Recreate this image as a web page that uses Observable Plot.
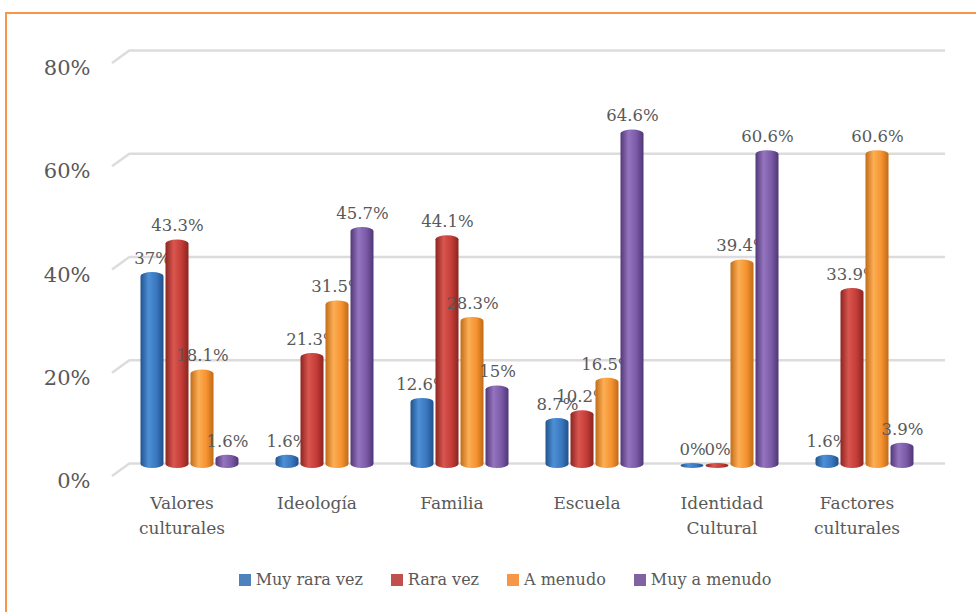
<!DOCTYPE html>
<html><head><meta charset="utf-8">
<script src="https://cdn.jsdelivr.net/npm/d3@7"></script>
<script src="https://cdn.jsdelivr.net/npm/@observablehq/plot@0.6"></script>
<style>
body{margin:0;background:#fff;width:976px;height:612px;overflow:hidden;position:relative;font-family:"DejaVu Serif",serif;}
#frame{position:absolute;left:5px;top:12px;right:-10px;bottom:-10px;border-top:2px solid #f79646;border-left:2px solid #f79646;}
#chart{position:absolute;left:0;top:0;}
#legend{position:absolute;top:570px;left:0;width:1010px;display:flex;justify-content:center;gap:28px;color:#595959;font-size:16px;line-height:20px;}
#legend .item{display:flex;align-items:center;gap:5px;}
#legend .sw{width:12px;height:12px;display:inline-block;}
</style></head>
<body>
<div id="frame"></div>
<div id="chart"></div>
<div id="legend"></div>
<script>
const categories = ["Valores culturales","Ideología","Familia","Escuela","Identidad Cultural","Factores culturales"];
const series = ["Muy rara vez","Rara vez","A menudo","Muy a menudo"];
const muyRaraVez = [37,1.6,12.6,8.7,0,1.6];
const raraVez = [43.3,21.3,44.1,10.2,0,33.9];
const aMenudo = [18.1,31.5,28.3,16.5,39.4,60.6];
const muyAMenudo = [1.6,45.7,15,64.6,60.6,3.9];
const yTicks = [0,20,40,60,80];
const seriesValues = [muyRaraVez, raraVez, aMenudo, muyAMenudo];
const legendColors = ["#4f81bd","#c0504d","#f79646","#8064a2"];
const gradStops = [
  ["#22538c","#4d8fd6","#3a77bf","#21508a"],
  ["#8c2522","#d9564f","#c43c37","#8a2421"],
  ["#c26c17","#fcae55","#f5922f","#c06a16"],
  ["#523878","#9474bf","#7a59a6","#4f3675"]
];

const step = 135, barW = 23, gap = 2, groupW = 4*barW + 3*gap, groupOff = (step - groupW)/2;
// slanted perspective stubs at the left end of each gridline, placed via the y scale
const stubs = (index, scales, values, dims) => {
  const g = d3.create("svg:g").attr("stroke", "#dcdcdc").attr("stroke-width", 2.5);
  const x0 = dims.marginLeft;
  for (const t of yTicks) {
    const y = scales.y(t);
    g.append("line").attr("x1", x0 - 10).attr("y1", y + 13).attr("x2", x0 + 8).attr("y2", y);
  }
  return g.node();
};
const marks = [
  Plot.ruleY(yTicks, {stroke:"#dcdcdc", strokeWidth:2.5, insetLeft:8, insetRight:-13}),
  stubs,
  Plot.axisY(yTicks, {tickSize:0, tickPadding:32, tickFormat:d => d + "%", fontSize:21, dy:18, fill:"#595959", label:null}),
  Plot.axisX({tickSize:0, tickPadding:28, tickFormat:d => d.replace(" ", "\n"), fontSize:17, lineHeight:1.45, fill:"#595959", dx:-8, label:null})
];
series.forEach((s, i) => {
  const rows = categories.map((c, j) => ({cat:c, series:s, v:seriesValues[i][j]}));
  const left = groupOff + i*(barW+gap);
  marks.push(Plot.barY(rows, {x:"cat", y:"v", fill:`url(#grad${i})`, insetLeft:left, insetRight:step-left-barW, insetBottom:-5, rx:11.5, ry:4}));
  marks.push(Plot.text(rows, {x:"cat", y:"v", text:d => d.v + "%", dx:left + barW/2 - step/2, dy:-14, fontSize:16.5, fill:"#595959"}));
});

const chart = Plot.plot({
  width:976, height:545,
  marginLeft:122, marginRight:44, marginTop:50, marginBottom:82,
  style:{fontFamily:"DejaVu Serif, serif", background:"transparent"},
  x:{domain:categories, padding:0, label:null},
  y:{domain:[0,80], label:null},
  marks
});
const svgns = "http://www.w3.org/2000/svg";
const defs = document.createElementNS(svgns, "defs");
gradStops.forEach((st, i) => {
  const g = document.createElementNS(svgns, "linearGradient");
  g.setAttribute("id", "grad" + i);
  g.setAttribute("x1","0"); g.setAttribute("x2","1"); g.setAttribute("y1","0"); g.setAttribute("y2","0");
  [0,0.35,0.7,1].forEach((o, k) => {
    const s = document.createElementNS(svgns, "stop");
    s.setAttribute("offset", o); s.setAttribute("stop-color", st[k]);
    g.appendChild(s);
  });
  defs.appendChild(g);
});
chart.insertBefore(defs, chart.firstChild);
document.getElementById("chart").appendChild(chart);

const legend = document.getElementById("legend");
series.forEach((s, i) => {
  const it = document.createElement("span"); it.className = "item";
  const sw = document.createElement("span"); sw.className = "sw"; sw.style.background = legendColors[i];
  const t = document.createElement("span"); t.textContent = s;
  it.appendChild(sw); it.appendChild(t); legend.appendChild(it);
});
</script>
</body></html>
